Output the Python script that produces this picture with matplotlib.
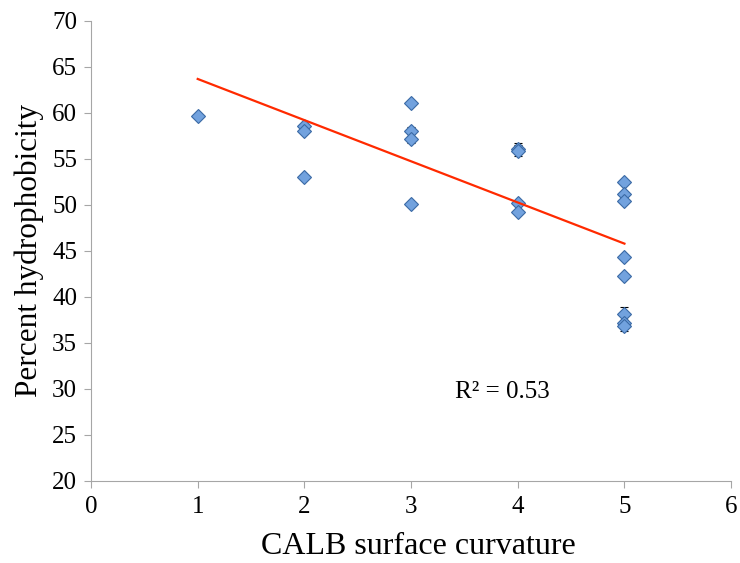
import matplotlib
matplotlib.use("Agg")
import matplotlib.pyplot as plt

plt.rcParams['font.family'] = ['Liberation Serif', 'DejaVu Serif']

curvature = [1, 2, 2, 2, 3, 3, 3, 3, 4, 4, 4, 4, 5, 5, 5, 5, 5, 5, 5, 5]
hydrophobicity = [59.7, 58.6, 58.0, 53.0, 61.1, 58.0, 57.2, 50.1,
                  56.1, 55.9, 50.2, 49.2,
                  52.5, 51.2, 50.4, 44.3, 42.3, 38.2, 37.2, 36.8]
errors = [0.1, 0.2, 0.2, 0.1, 0.2, 0.5, 0.5, 0.1,
          0.6, 0.6, 0.2, 0.2,
          0.2, 0.2, 0.2, 0.2, 0.2, 0.7, 0.3, 0.5]
trend_x = [1, 5]
trend_y = [63.7, 45.8]
r2_label = "R² = 0.53"

fig = plt.figure(figsize=(7.4, 5.63), dpi=100)
ax = fig.add_axes([0.123, 0.1457, 0.865, 0.817])

ax.errorbar(curvature, hydrophobicity, yerr=errors, fmt='none',
            ecolor='black', elinewidth=0.8, capsize=3, capthick=0.8, zorder=2)
ax.plot(curvature, hydrophobicity, linestyle='none', marker='D', markersize=7,
        markerfacecolor='#72a2de', markeredgecolor='#3b6aa5', markeredgewidth=0.8,
        zorder=3)
ax.plot(trend_x, trend_y, color='#ff2a00', linewidth=1.6, zorder=4)

ax.text(3.86, 29.7, r2_label, fontsize=18, ha='center', va='center')

ax.set_xlim(0, 6)
ax.set_ylim(20, 70)
ax.set_xticks(range(0, 7))
ax.set_yticks(range(20, 71, 5))
ax.tick_params(axis='both', labelsize=18, direction='out', length=5, width=0.8,
               color='#a6a6a6')
ax.tick_params(axis='x', pad=6)
ax.tick_params(axis='y', pad=5)
ax.spines['top'].set_visible(False)
ax.spines['right'].set_visible(False)
for s in ('left', 'bottom'):
    ax.spines[s].set_linewidth(0.8)
    ax.spines[s].set_color('#a6a6a6')

ax.set_xlabel('CALB surface curvature', fontsize=23)
ax.xaxis.set_label_coords(0.511, -0.112)
ax.set_ylabel('Percent hydrophobicity', fontsize=22.5, labelpad=6)

fig.savefig('out.png', dpi=100)
